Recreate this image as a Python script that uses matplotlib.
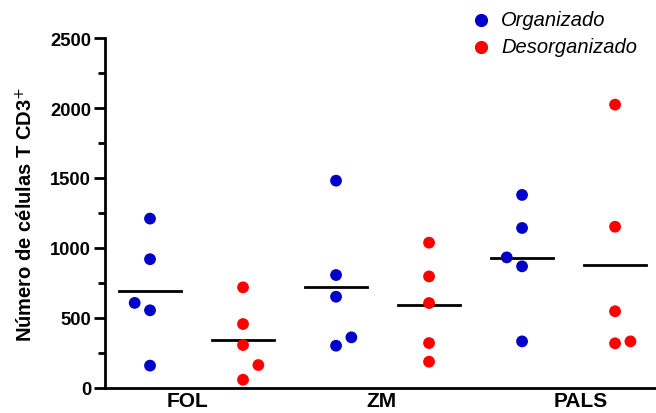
import numpy as np
import matplotlib
matplotlib.use("Agg")
import matplotlib.pyplot as plt

plt.rcParams['font.family'] = ['Liberation Sans', 'DejaVu Sans']

# dados
grupos = ['FOL', 'ZM', 'PALS']
organizado = [
    [1210, 920, 608, 555, 160],     # FOL
    [1481, 807, 652, 362, 302],     # ZM
    [1379, 1143, 933, 869, 333],    # PALS
]
desorganizado = [
    [719, 457, 307, 164, 59],       # FOL
    [1038, 797, 607, 321, 188],     # ZM
    [2024, 1152, 548, 319, 333],    # PALS
]
# deslocamento lateral dos pontos sobrepostos (-1 esquerda, 1 direita)
desl_org = [[0, 0, -1, 0, 0], [0, 0, 0, 1, 0], [0, 0, -1, 0, 0]]
desl_des = [[0, 0, 0, 1, 0], [0, 0, 0, 0, 0], [0, 0, 0, 0, 1]]

cor_org = '#0000C8'
cor_des = '#FF0000'

fig = plt.figure(figsize=(6.56, 4.14), dpi=100)
ax = fig.add_axes([105 / 656, 25 / 414, 551 / 656, 350 / 414])

passo = 0.165
for i in range(len(grupos)):
    for vals, desl, cor, k in [(organizado[i], desl_org[i], cor_org, 0),
                               (desorganizado[i], desl_des[i], cor_des, 1)]:
        pos = 2 * i + k
        xs = pos + np.array(desl) * passo
        ax.scatter(xs, vals, s=72, color=cor, edgecolors='none', zorder=3)
        ax.plot([pos - 0.33, pos + 0.33], [np.mean(vals)] * 2, color='black',
                lw=2, zorder=2)

# legenda
ax.scatter([], [], s=72, color=cor_org, label='Organizado')
ax.scatter([], [], s=72, color=cor_des, label='Desorganizado')
leg = ax.legend(loc='upper left', bbox_to_anchor=(0.664, 1.08), frameon=False,
                prop={'style': 'italic', 'size': 14.5}, handlelength=1.0,
                handletextpad=0.5, labelspacing=0.42, borderaxespad=0,
                borderpad=0)

ax.set_xlim(-0.484, 5.44)
ax.set_ylim(0, 2500)
ax.set_xticks([0.40, 2.49, 4.63])
ax.set_xticklabels(grupos, fontweight='bold', fontsize=15)
ax.tick_params(axis='x', length=0, pad=2)
ax.set_yticks(np.arange(0, 2501, 500))
ax.set_yticks(np.arange(250, 2500, 500), minor=True)
ax.tick_params(axis='y', which='major', length=8, width=2, labelsize=13.2, pad=2)
ax.tick_params(axis='y', which='minor', length=5, width=2)
for t in ax.get_yticklabels():
    t.set_fontweight('bold')

ax.set_ylabel('Número de células T CD3$^{+}$', fontweight='bold', fontsize=14.5,
              labelpad=10)

for lado in ['top', 'right']:
    ax.spines[lado].set_visible(False)
for lado in ['left', 'bottom']:
    ax.spines[lado].set_linewidth(2)

fig.savefig('out.png', dpi=100)
